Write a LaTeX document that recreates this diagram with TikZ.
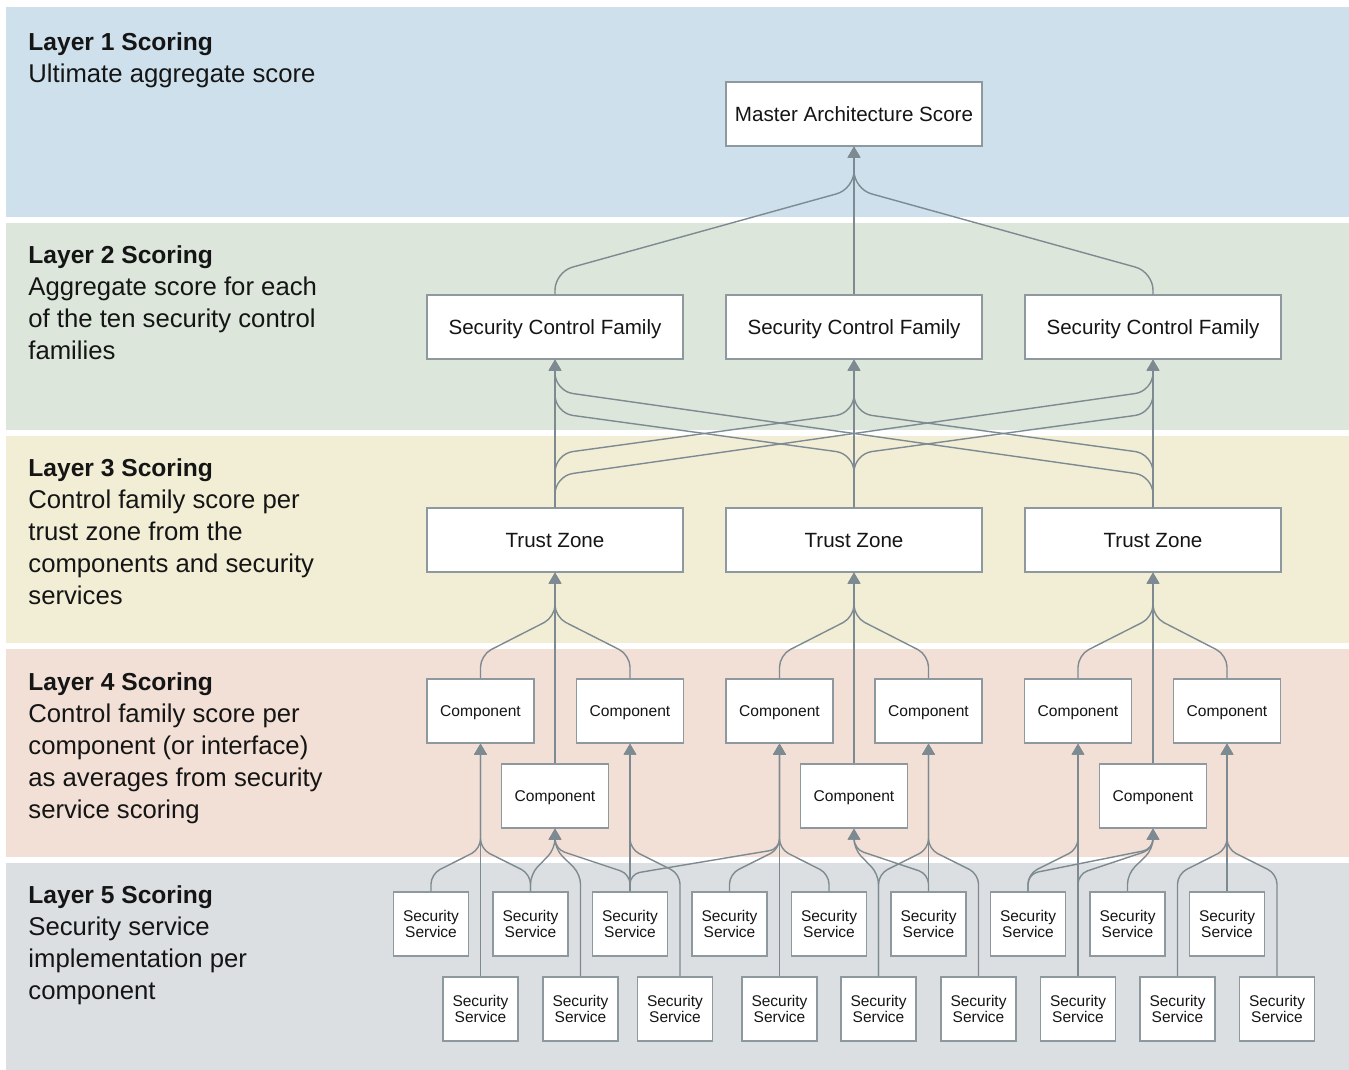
\documentclass[tikz,border=0pt]{standalone}
\usepackage{fontspec}
\setmainfont{Liberation Sans}
\usepackage{xcolor}
\usepackage{tikz}
\usetikzlibrary{arrows.meta}
\definecolor{Linie}{HTML}{7D8A91}
\definecolor{Rand}{HTML}{8E999F}
\definecolor{Schrift}{HTML}{151515}
\definecolor{Ebene1}{HTML}{CDE0EC}
\definecolor{Ebene2}{HTML}{DCE6DB}
\definecolor{Ebene3}{HTML}{F2EED6}
\definecolor{Ebene4}{HTML}{F2E0D7}
\definecolor{Ebene5}{HTML}{DCDFE1}
\tikzset{
  Kasten/.style={draw=Rand, line width=0.7pt, fill=white, inner sep=0pt,
    minimum height=32pt, text=Schrift, align=center}, % alle Boxen
  Gross/.style={Kasten, minimum width=128pt, text depth=0pt, font=\fontsize{10.3}{12}\selectfont},
  Komp/.style={Kasten, minimum width=53.5pt, text depth=0pt, font=\fontsize{7.8}{9}\selectfont},
  Dienst/.style={Kasten, minimum width=37.5pt, font=\fontsize{7.75}{8}\selectfont},
  Ebene/.style={anchor=base west, align=left, inner sep=0pt, text=Schrift,
    font=\fontsize{12.85}{16}\selectfont}, % Text links, Basis = letzte Zeile
  Pfeil/.style={Linie, line width=0.7pt, rounded corners=#1, ->} % Verbindungen
}
\newcommand{\Titel}[1]{{\fontsize{12.3}{16}\selectfont\bfseries #1}}

\begin{document}
\begin{tikzpicture}[x=0.5pt, y=-0.5pt,
>={Triangle[length=5.5pt,width=6.3pt]} % Voreinstellung fuer Pfeilspitzen
]
\useasboundingbox (0,0) rectangle (1349,1070);

%Ebenen
\fill[Ebene1] (6,7) rectangle (1349,217);
\fill[Ebene2] (6,223) rectangle (1349,430);
\fill[Ebene3] (6,436) rectangle (1349,643);
\fill[Ebene4] (6,649) rectangle (1349,857);
\fill[Ebene5] (6,863) rectangle (1349,1070);

\node[Ebene] (L1) at (28,82.5) {\Titel{Layer 1 Scoring}\\Ultimate aggregate score};
\node[Ebene] (L2) at (28,359.5) {\Titel{Layer 2 Scoring}\\Aggregate score for each\\of the ten security control\\families};
\node[Ebene] (L3) at (28,604) {\Titel{Layer 3 Scoring}\\Control family score per\\trust zone from the\\components and security\\services};
\node[Ebene] (L4) at (28,818) {\Titel{Layer 4 Scoring}\\Control family score per\\component (or interface)\\as averages from security\\service scoring};
\node[Ebene] (L5) at (28,999) {\Titel{Layer 5 Scoring}\\Security service\\implementation per\\component};

%Boxen
\node[Gross] (MAS) at (854,114) {Master Architecture Score};
\foreach \n/\x in {1/555,2/854,3/1153}
{
  \node[Gross] (SCF\n) at (\x,327) {Security Control Family};
  \node[Gross] (TZ\n) at (\x,540) {Trust Zone};
  \node[Komp] (KU\n) at (\x,796) {Component};
}
\foreach \n/\x in {1/480.5,2/630,3/779.5,4/928.5,5/1078,6/1227}
  \node[Komp] (K\n) at (\x,711) {Component};
\foreach \n in {1,...,9}
  \node[Dienst] (SSo\n) at ({431+99.5*(\n-1)},924) {Security\\Service};
\foreach \n/\x in {1/480.5,2/580.5,3/675,4/779.5,5/878.5,6/978.5,7/1078,8/1177.5,9/1277}
  \node[Dienst] (SSu\n) at (\x,1009) {Security\\Service};

%Verbindungen Ebene 2 -> 1
\foreach \k in {SCF1,SCF2,SCF3}
  \draw[Pfeil=9pt] (\k.north) -- (\k.north |- 0,272) -- (MAS.south |- 0,189) -- (MAS.south);

%Verbindungen Ebene 3 -> 2
\foreach \k/\p/\u/\o in {TZ1/SCF1/454/413, TZ2/SCF1/454/413, TZ3/SCF1/476/391,
  TZ1/SCF2/454/413, TZ2/SCF2/454/413, TZ3/SCF2/454/413,
  TZ1/SCF3/476/391, TZ2/SCF3/454/413, TZ3/SCF3/454/413}
  \draw[Pfeil=9pt] (\k.north) -- (\k.north |- 0,\u) -- (\p.south |- 0,\o) -- (\p.south);

%Verbindungen Ebene 4 -> 3
\foreach \k/\p in {K1/TZ1, K2/TZ1, KU1/TZ1, K3/TZ2, K4/TZ2, KU2/TZ2, K5/TZ3, K6/TZ3, KU3/TZ3}
  \draw[Pfeil=6pt] (\k.north) -- (\k.north |- 0,655) -- (\p.south |- 0,617) -- (\p.south);

%Verbindungen Ebene 5 -> 4
\coordinate (SSu3r) at ([xshift=2.5pt]SSu3.north);
\foreach \k/\p in {SSu1/K1, SSo1/K1, SSo2/K1, SSo2/KU1, SSu2/KU1, SSo3/KU1,
  SSo3/K2, SSu3r/K2, SSu4/K3, SSo3/K3, SSo4/K3, SSo5/K3,
  SSu5/KU2, SSo6/KU2, SSo6/K4, SSu5/K4, SSu6/K4,
  SSu7/K5, SSo7/K5, SSo7/KU3, SSu7/KU3, SSo8/KU3,
  SSo9/K6, SSu8/K6, SSu9/K6}
  \draw[Pfeil=5pt] (\k.north) -- (\k.north |- 0,874) -- (\p.south |- 0,849) -- (\p.south);

\end{tikzpicture}
\end{document}
